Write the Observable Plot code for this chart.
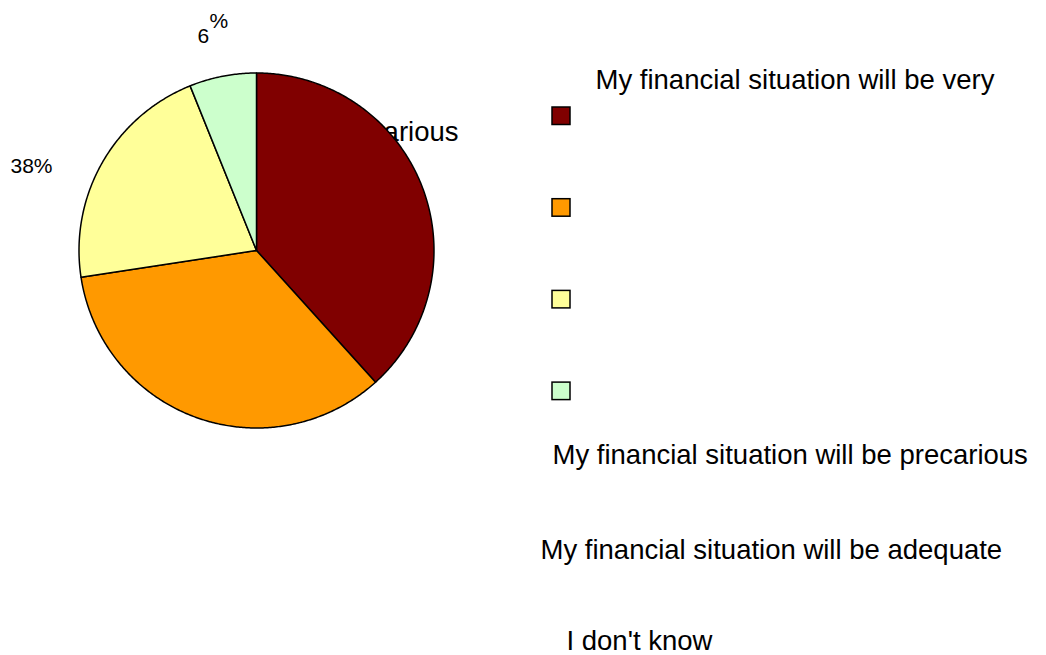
<!DOCTYPE html>
<html><head><meta charset="utf-8">
<script src="https://cdn.jsdelivr.net/npm/d3@7"></script>
<script src="https://cdn.jsdelivr.net/npm/@observablehq/plot@0.6"></script>
<style>html,body{margin:0;background:#fff} #chart svg{display:block}</style>
</head><body><div id="chart"></div>
<script>
// ---- data ----
const categories = [
  "My financial situation will be very precarious",
  "My financial situation will be precarious",
  "My financial situation will be adequate",
  "I don't know"
];
const shares = [38.3, 34.3, 21.3, 6.1];
const colors = ["#800000", "#FF9900", "#FFFF99", "#CCFFCC"];
const pctLabels = ["38%", "6", "%"];
const legendLines = [
  "My financial situation will be very",
  "precarious",
  "My financial situation will be precarious",
  "My financial situation will be adequate",
  "I don't know"
];

// ---- layout ----
const W = 1046, H = 655;
const cx = 256, cy = 250, R = 177.5;
const font = "'Liberation Sans', Arial, sans-serif";

const arcs = d3.pie().sort(null).startAngle(0).endAngle(2 * Math.PI)(shares);
const pts = [];
arcs.forEach((a, i) => {
  const name = categories[i];
  pts.push({name, x: cx, y: cy});
  const n = Math.max(2, Math.ceil((a.endAngle - a.startAngle) / (Math.PI / 360)));
  for (let k = 0; k <= n; k++) {
    const t = a.startAngle + (a.endAngle - a.startAngle) * k / n;
    pts.push({name, x: cx + R * Math.sin(t), y: cy - R * Math.cos(t)});
  }
  pts.push({name, x: cx, y: cy});
});

const legendBoxes = categories.map((name, i) => ({
  name, x1: 552, x2: 570, y1: 107 + i * 91.7, y2: 124.5 + i * 91.7
}));

const textPos = [[595, 88], [458, 140], [552, 463], [540, 558], [566, 649]];
const legendText = legendLines.map((t, i) => ({t, x: textPos[i][0], y: textPos[i][1]}));

const pctPos = [[10, 172], [197, 42], [209, 27]];
const pctText = pctLabels.map((t, i) => ({t, x: pctPos[i][0], y: pctPos[i][1]}));

const chart = Plot.plot({
  width: W, height: H,
  margin: 0,
  x: {type: "identity", axis: null},
  y: {type: "identity", axis: null},
  color: {domain: categories, range: colors},
  style: {fontFamily: font, background: "#fff", overflow: "hidden"},
  marks: [
    Plot.text(legendText.filter((d, i) => i === 1), {x: "x", y: "y", text: "t", textAnchor: "end", lineAnchor: "bottom", fontSize: 27.5, fill: "#000"}),
    Plot.line(pts, {x: "x", y: "y", z: "name", fill: "name", stroke: "#000", strokeWidth: 1.5, strokeLinejoin: "round"}),
    Plot.rect(legendBoxes, {x1: "x1", x2: "x2", y1: "y1", y2: "y2", fill: "name", stroke: "#000", strokeWidth: 1.5}),
    Plot.text(legendText.filter((d, i) => i !== 1), {x: "x", y: "y", text: "t", textAnchor: "start", lineAnchor: "bottom", fontSize: 27.5, fill: "#000"}),
    Plot.text(pctText, {x: "x", y: "y", text: "t", textAnchor: "start", lineAnchor: "bottom", fontSize: 21, fill: "#000"})
  ]
});
document.getElementById("chart").appendChild(chart);
</script>
</body></html>
